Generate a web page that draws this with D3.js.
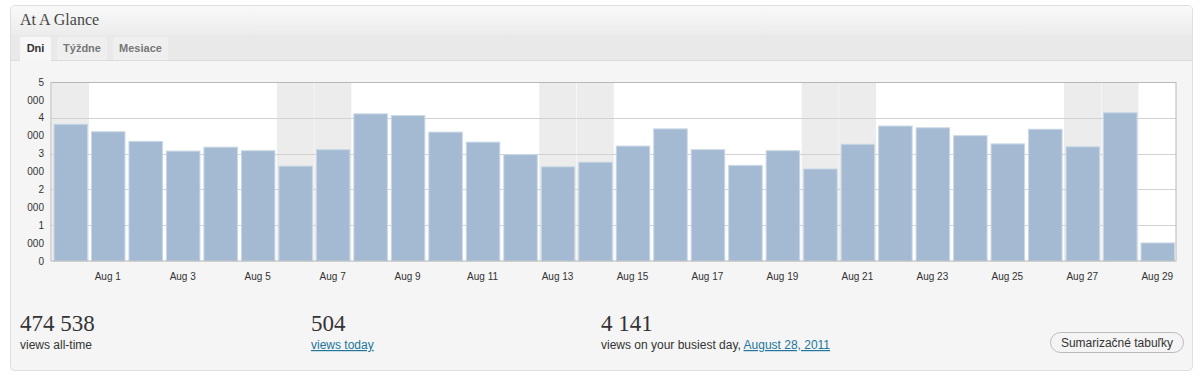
<!DOCTYPE html>
<html>
<head>
<meta charset="utf-8">
<script src="https://cdn.jsdelivr.net/npm/d3@7"></script>
<style>
  html, body { margin: 0; padding: 0; background: #ffffff; }
  svg { display: block; }
  .serif { font-family: "Liberation Serif", "DejaVu Serif", Georgia, serif; }
  .sans { font-family: "Liberation Sans", Arial, sans-serif; }
</style>
</head>
<body>
<svg id="chart" width="1203" height="378"></svg>
<script>
// ---- data ----
const days = ["2011-07-31","2011-08-01","2011-08-02","2011-08-03","2011-08-04","2011-08-05","2011-08-06",
  "2011-08-07","2011-08-08","2011-08-09","2011-08-10","2011-08-11","2011-08-12","2011-08-13","2011-08-14",
  "2011-08-15","2011-08-16","2011-08-17","2011-08-18","2011-08-19","2011-08-20","2011-08-21","2011-08-22",
  "2011-08-23","2011-08-24","2011-08-25","2011-08-26","2011-08-27","2011-08-28","2011-08-29"];
const views = [3820,3610,3340,3070,3180,3080,2650,3110,4110,4060,3600,3320,2970,2630,2760,
  3210,3690,3110,2670,3080,2570,3260,3770,3720,3500,3270,3680,3190,4141,504];
const yTicks = [0,1000,2000,3000,4000,5000];
const tabs = ["Dni","Týždne","Mesiace"];
const title = "At A Glance";
const statAllTime = "474 538";
const statToday = "504";
const statBusiest = "4 141";
const busiestDate = "August 28, 2011";
const buttonLabel = "Sumarizačné tabuľky";

// ---- layout ----
const svg = d3.select("#chart");
const parse = d3.timeParse("%Y-%m-%d");
const fmtTick = d3.timeFormat("%b %-d");

// panel
svg.append("rect").attr("x",10.5).attr("y",5.5).attr("width",1182).attr("height",365)
  .attr("rx",4).attr("fill","#f5f5f5").attr("stroke","#dfdfdf");
const defs = svg.append("defs");
const grad = defs.append("linearGradient").attr("id","hdr").attr("x1",0).attr("y1",0).attr("x2",0).attr("y2",1);
grad.append("stop").attr("offset","0%").attr("stop-color","#f9f9f9");
grad.append("stop").attr("offset","100%").attr("stop-color","#ececec");
svg.append("path").attr("d","M11,35 L11,9 Q11,6 14,6 L1189,6 Q1192,6 1192,9 L1192,35 Z").attr("fill","url(#hdr)");
svg.append("rect").attr("x",11).attr("y",35).attr("width",1181).attr("height",25).attr("fill","#e9e9e9");
svg.append("line").attr("x1",11).attr("x2",1192).attr("y1",60.5).attr("y2",60.5).attr("stroke","#dcdcdc");

svg.append("text").attr("class","serif").attr("x",20).attr("y",25)
  .attr("font-size",16).attr("fill","#464646").text(title);

// tabs
const tabX = [20, 57, 113], tabW = [31, 50, 55];
tabs.forEach((t,i)=>{
  const x = tabX[i], w = tabW[i], active = i===0;
  svg.append("path")
    .attr("d",`M${x},${active?61:60} L${x},39 Q${x},37 ${x+2},37 L${x+w-2},37 Q${x+w},37 ${x+w},39 L${x+w},${active?61:60} Z`)
    .attr("fill", active ? "#f7f7f7" : "#efefef");
  svg.append("text").attr("class","sans").attr("x",x+w/2).attr("y",52)
    .attr("text-anchor","middle").attr("font-size",11).attr("font-weight","bold")
    .attr("fill", active ? "#333" : "#777").text(t);
});

// chart
const x0 = 51.5, x1 = 1176, yTop = 82, yBot = 261;
const x = d3.scaleBand().domain(days).range([x0, x1]).paddingInner(0).paddingOuter(0);
const y = d3.scaleLinear().domain([0,5000]).range([yBot, yTop]);

const g = svg.append("g");
g.append("rect").attr("x",x0).attr("y",yTop).attr("width",x1-x0).attr("height",yBot-yTop).attr("fill","#ffffff");

// weekend shading
g.selectAll("rect.wk").data(days.filter(d=>{const w=parse(d).getDay(); return w===0||w===6;}))
  .join("rect").attr("class","wk")
  .attr("x",d=>x(d)+0.5).attr("y",yTop).attr("width",x.bandwidth()-0.5).attr("height",yBot-yTop)
  .attr("fill","#ececec");

// grid
g.selectAll("line.grid").data(yTicks.filter(t=>t>0 && t<5000)).join("line").attr("class","grid")
  .attr("x1",x0).attr("x2",x1).attr("y1",d=>Math.round(y(d))+0.5).attr("y2",d=>Math.round(y(d))+0.5)
  .attr("stroke","#d2d2d2");

// bars
const bw = x.bandwidth();
g.selectAll("rect.bar").data(days).join("rect").attr("class","bar")
  .attr("x",d=>x(d)+2.5).attr("width",bw-4)
  .attr("y",(d,i)=>y(views[i])).attr("height",(d,i)=>yBot-y(views[i]))
  .attr("fill","#a3bad2").attr("stroke","#c9d7e5").attr("stroke-width",1);

// frame
g.append("rect").attr("x",x0-0.5).attr("y",yTop+0.5).attr("width",x1-x0+0.5).attr("height",yBot-yTop-0.5)
  .attr("fill","none").attr("stroke","#b8b8b8");

// y-axis labels
const yFmt = d3.format(",");
yTicks.forEach(t=>{
  const parts = yFmt(t).split(",");
  const yy = y(t);
  svg.append("text").attr("class","sans").attr("x",44).attr("y",yy+3.5)
    .attr("text-anchor","end").attr("font-size",10).attr("fill","#333").text(parts[0]);
  if (parts.length>1) {
    svg.append("text").attr("class","sans").attr("x",44).attr("y",yy+21.5)
      .attr("text-anchor","end").attr("font-size",10).attr("fill","#333").text(parts.slice(1).join(" "));
  }
});

// x-axis labels
const xAxis = d3.axisBottom(x).tickValues(days.filter((d,i)=>i%2===1))
  .tickFormat(d=>fmtTick(parse(d))).tickSize(0).tickPadding(0);
const ax = svg.append("g").attr("transform",`translate(0,${yBot+19})`).call(xAxis);
ax.select(".domain").remove();
ax.selectAll("text").attr("class","sans").attr("font-size",10).attr("fill","#333").attr("dy",0);

// stats
function stat(xp, big) {
  svg.append("text").attr("class","serif").attr("x",xp).attr("y",331).attr("font-size",23).attr("fill","#333").text(big);
  return svg.append("text").attr("class","sans").attr("x",xp).attr("y",349).attr("font-size",12).attr("fill","#333");
}
stat(20, statAllTime).text("views all-time");
stat(311, statToday).append("tspan").attr("fill","#21759b").attr("text-decoration","underline").text("views today");
const t3 = stat(601, statBusiest);
t3.append("tspan").text("views on your busiest day, ");
t3.append("tspan").attr("fill","#21759b").attr("text-decoration","underline").text(busiestDate);

// button
svg.append("rect").attr("x",1050.5).attr("y",332.5).attr("width",133).attr("height",20).attr("rx",10)
  .attr("fill","#f4f4f4").attr("stroke","#bbbbbb");
svg.append("text").attr("class","sans").attr("x",1117).attr("y",347).attr("text-anchor","middle")
  .attr("font-size",12).attr("fill","#333").text(buttonLabel);
</script>
</body>
</html>
